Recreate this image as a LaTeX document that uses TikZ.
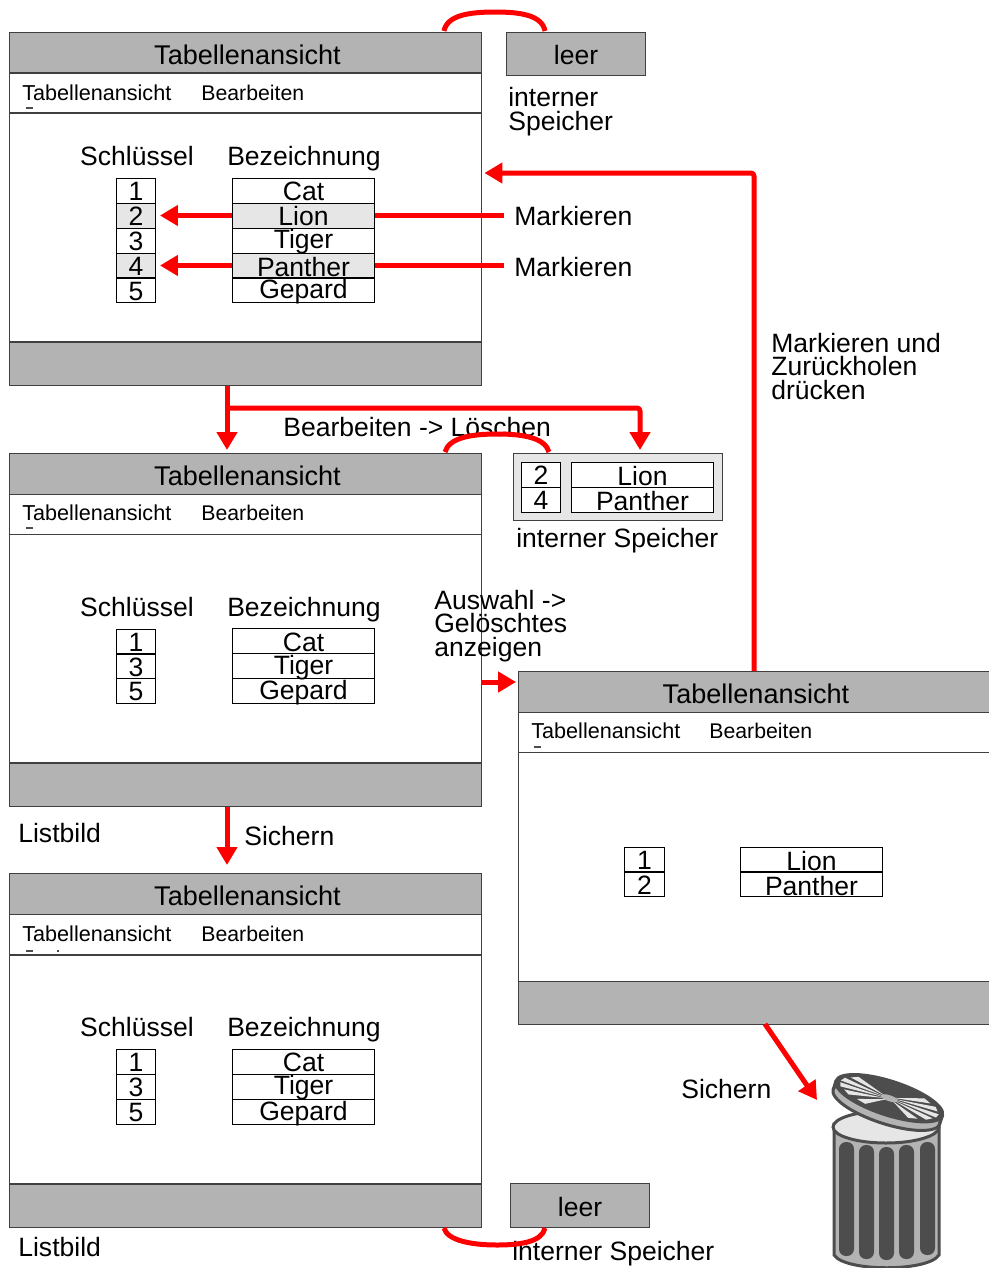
\documentclass[tikz,border=0pt]{standalone}
\usepackage{fontspec}
\setmainfont{Liberation Sans}
\usetikzlibrary{arrows.meta}
\definecolor{bargray}{HTML}{B3B3B3}
\definecolor{markgray}{HTML}{E6E6E6}
\definecolor{bindark}{HTML}{4D4D4D}
\tikzset{
    winpart/.style={draw=black!75,line width=0.02cm,inner sep=0pt,outer sep=0pt,minimum width=9.44cm},
    titlebar/.style={winpart,fill=bargray,minimum height=0.82cm,text height=0.46cm,text depth=0pt,font=\fontsize{15.4}{15}\selectfont,execute at begin node=\hspace*{0.08cm}},
    menubar/.style={winpart,fill=white,minimum height=0.8cm},
    bodybox/.style={winpart,fill=white,minimum height=4.58cm},
    statusbar/.style={winpart,fill=bargray,minimum height=0.86cm},
    leerbox/.style={winpart,fill=bargray,minimum width=2.8cm,minimum height=0.88cm,text height=0.46cm,text depth=0pt,font=\fontsize{15.1}{15}\selectfont},
    menutext/.style={inner sep=0pt,anchor=base west,font=\fontsize{12.3}{12}\selectfont},
    menuright/.style={menutext,font=\fontsize{12.1}{12}\selectfont},
    plaintext/.style={inner sep=0pt,anchor=base west,align=left,font=\fontsize{15.1}{13.3}\selectfont},
    headtext/.style={inner sep=0pt,anchor=base,font=\fontsize{15.1}{15}\selectfont},
    tablerow/.style={draw=black,line width=0.02cm,inner sep=0pt,outer sep=0pt,minimum height=0.5cm,text height=0.4cm,text depth=0pt,font=\fontsize{15.1}{15}\selectfont},
    keyrow/.style={tablerow,minimum width=0.8cm},
    namerow/.style={tablerow,minimum width=2.86cm},
    highrow/.style={text height=0.32cm},
    midrow/.style={text height=0.35cm},
    lowrow/.style={text height=0.44cm},
    redline/.style={red,line width=0.1cm,line join=round},
    redarrow/.style={redline,-{Triangle[width=0.4cm,length=0.36cm]}},
    cutoff/.style={black!70,line width=0.03cm},
}
\begin{document}
\begin{tikzpicture}[x=0.02cm,y=-0.02cm]
    \useasboundingbox (0,0) rectangle (989,1268);

    % first window
    \node [titlebar] (wintitleA) at (245.5,52.5) {Tabellenansicht};
    \node [menubar] (winmenuA) at (245.5,93) {};
    \node [bodybox] (winbodyA) at (245.5,227.5) {};
    \node [statusbar] (winstatusA) at (245.5,364) {};
    \node [menutext] (menuleftA) at (22,100) {Tabellenansicht};
    \node [menuright] (menurightA) at (201,100) {Bearbeiten};
    \draw [cutoff] (26,108) -- (33,108);
    \node [headtext] (keyheadA) at (137,165) {Schlüssel};
    \node [headtext] (nameheadA) at (304,165) {Bezeichnung};
    \node [keyrow] (keyAa) at (136,190.5) {1};
    \node [keyrow,fill=markgray] (keyAb) at (136,215.5) {2};
    \node [keyrow] (keyAc) at (136,240.5) {3};
    \node [keyrow,fill=markgray] (keyAd) at (136,265.5) {4};
    \node [keyrow] (keyAe) at (136,290) {5};
    \node [namerow] (nameAa) at (303.5,190.5) {Cat};
    \node [namerow,fill=markgray] (nameAb) at (303.5,215.5) {Lion};
    \node [namerow,highrow] (nameAc) at (303.5,240.5) {Tiger};
    \node [namerow,fill=markgray,lowrow] (nameAd) at (303.5,265.5) {Panther};
    \node [namerow,midrow] (nameAe) at (303.5,290) {Gepard};
    \node [leerbox,text height=0.42cm] (leerA) at (576,54) {leer};
    \node [plaintext] (speicherA) at (508,130) {interner\\Speicher};
    \node [plaintext] (markA) at (514,225) {Markieren};
    \node [plaintext] (markB) at (514,276) {Markieren};

    % second window
    \node [titlebar] (wintitleB) at (245.5,473.5) {Tabellenansicht};
    \node [menubar] (winmenuB) at (245.5,514) {};
    \node [bodybox] (winbodyB) at (245.5,648.5) {};
    \node [statusbar] (winstatusB) at (245.5,785) {};
    \node [menutext] (menuleftB) at (22,520) {Tabellenansicht};
    \node [menuright] (menurightB) at (201,520) {Bearbeiten};
    \draw [cutoff] (26,528) -- (33,528);
    \node [headtext] (keyheadB) at (137,616) {Schlüssel};
    \node [headtext] (nameheadB) at (304,616) {Bezeichnung};
    \node [keyrow] (keyBa) at (136,641.5) {1};
    \node [keyrow] (keyBb) at (136,666) {3};
    \node [keyrow] (keyBc) at (136,690.5) {5};
    \node [namerow] (nameBa) at (303.5,641) {Cat};
    \node [namerow,highrow] (nameBb) at (303.5,666) {Tiger};
    \node [namerow,midrow] (nameBc) at (303.5,690.5) {Gepard};
    \node [plaintext] (listB) at (18,842) {Listbild};

    % internal memory
    \node [winpart,fill=markgray,minimum width=4.2cm,minimum height=1.34cm] (memory) at (618,486.5) {};
    \node [keyrow,fill=white,minimum width=0.78cm] (memkeyA) at (541,474.5) {2};
    \node [keyrow,fill=white,minimum width=0.78cm] (memkeyB) at (541,499.5) {4};
    \node [namerow,fill=white,lowrow] (memnameA) at (642.5,474.5) {Lion};
    \node [namerow,fill=white,lowrow] (memnameB) at (642.5,499.5) {Panther};
    \node [plaintext] (speicherB) at (516,547) {interner Speicher};

    % third window
    \node [titlebar] (wintitleC) at (245.5,893.5) {Tabellenansicht};
    \node [menubar] (winmenuC) at (245.5,934.5) {};
    \node [bodybox] (winbodyC) at (245.5,1069.5) {};
    \node [statusbar] (winstatusC) at (245.5,1205.5) {};
    \node [menutext] (menuleftC) at (22,941) {Tabellenansicht};
    \node [menuright] (menurightC) at (201,941) {Bearbeiten};
    \draw [cutoff] (26,951) -- (33,951);
    \draw [cutoff] (57,951) -- (59,951);
    \node [headtext] (keyheadC) at (137,1036) {Schlüssel};
    \node [headtext] (nameheadC) at (304,1036) {Bezeichnung};
    \node [keyrow] (keyCa) at (136,1061.5) {1};
    \node [keyrow] (keyCb) at (136,1086.5) {3};
    \node [keyrow] (keyCc) at (136,1111.5) {5};
    \node [namerow] (nameCa) at (303.5,1061.5) {Cat};
    \node [namerow,highrow] (nameCb) at (303.5,1086.5) {Tiger};
    \node [namerow,midrow] (nameCc) at (303.5,1111.5) {Gepard};
    \node [leerbox] (leerB) at (580,1205) {leer};
    \node [plaintext] (listC) at (18,1256) {Listbild};
    \node [plaintext] (speicherC) at (512,1260) {interner Speicher};

    % fourth window
    \node [titlebar] (wintitleD) at (754,691.5) {Tabellenansicht};
    \node [menubar] (winmenuD) at (754,732.5) {};
    \node [bodybox] (winbodyD) at (754,867) {};
    \node [statusbar] (winstatusD) at (754,1003) {};
    \node [menutext] (menuleftD) at (531,738) {Tabellenansicht};
    \node [menuright] (menurightD) at (709,738) {Bearbeiten};
    \draw [cutoff] (534,747) -- (541,747);
    \node [keyrow] (keyDa) at (644.5,859.5) {1};
    \node [keyrow] (keyDb) at (644.5,884) {2};
    \node [namerow,lowrow] (nameDa) at (811.5,859.5) {Lion};
    \node [namerow,lowrow] (nameDb) at (811.5,884) {Panther};

    % free labels
    \node [plaintext] (loeschen) at (283,436) {Bearbeiten -> Löschen};
    \node [plaintext] (auswahl) at (434,656) {Auswahl ->\\Gelöschtes\\anzeigen};
    \node [plaintext] (zurueck) at (771,399) {Markieren und\\Zurückholen\\drücken};
    \node [plaintext] (sichernA) at (244,845) {Sichern};
    \node [plaintext] (sichernB) at (681,1098) {Sichern};

    % helper points for the connectors
    \coordinate (dropA) at (227,408);
    \coordinate (dropB) at (640,408);
    \coordinate (dropC) at (227,806);
    \coordinate (riseA) at (754,173);
    \coordinate (showA) at (481,682);
    \coordinate (binA) at (817,1100);
    \coordinate (binB) at (765,1024);
    \coordinate (markstartA) at (504,215);
    \coordinate (markstartB) at (504,265);
    \coordinate (humpA) at (444,31);
    \coordinate (humpB) at (545,31);
    \coordinate (humpC) at (445,452);
    \coordinate (humpD) at (549,452);
    \coordinate (humpE) at (444,1228);
    \coordinate (humpF) at (545,1228);

    % connectors
    \draw [redline] (markstartA) -- (nameAb.east |- markstartA);
    \draw [redline] (markstartB) -- (nameAd.east |- markstartB);
    \draw [redarrow,shorten >=0.08cm] (nameAb.west) -- (keyAb.east);
    \draw [redarrow,shorten >=0.08cm] (nameAd.west) -- (keyAd.east);
    \draw [redarrow,shorten >=0.06cm] (winstatusA.south -| dropA) -- (wintitleB.north -| dropA);
    \draw [redarrow,shorten >=0.06cm,rounded corners=0.06cm] (dropA) -- (dropB) -- (memory.north -| dropB);
    \draw [redarrow,shorten >=0.16cm] (winstatusB.south -| dropC) -- (wintitleC.north -| dropC);
    \draw [redarrow,shorten >=0.04cm] (showA) -- (wintitleD.west |- showA);
    \draw [redarrow,rounded corners=0.06cm,shorten >=0.06cm] (wintitleD.north -| riseA) -- (riseA) -- (winbodyA.east |- riseA);
    \draw [redarrow] (binB) -- (binA);
    \draw [redline] (humpA) .. controls (447,15) and (470,12) .. (495,12) .. controls (520,12) and (542,15) .. (humpB);
    \draw [redline] (humpC) .. controls (449,438) and (470,434) .. (497,434) .. controls (524,434) and (545,438) .. (humpD);
    \draw [redline] (humpE) .. controls (447,1240) and (470,1245) .. (497,1245) .. controls (520,1245) and (542,1242) .. (humpF);

    % waste bin
    \draw [bindark,line width=0.06cm,fill=bargray] (834,1124) -- (834,1255) .. controls (845,1272) and (928,1272) .. (939,1255) -- (939,1124) -- cycle;
    \draw [bindark,line width=0.06cm,fill=markgray] (886,1127) ellipse [x radius=53,y radius=16];
    \fill [bindark,rounded corners=0.14cm] (839,1142) rectangle (854,1256);
    \fill [bindark,rounded corners=0.14cm] (859,1145) rectangle (874,1259);
    \fill [bindark,rounded corners=0.14cm] (879,1147) rectangle (894,1260);
    \fill [bindark,rounded corners=0.14cm] (899,1145) rectangle (914,1259);
    \fill [bindark,rounded corners=0.14cm] (920,1142) rectangle (935,1255);
    \begin{scope}[shift={(888,1102)},rotate=-18]
        \draw [bindark,line width=0.06cm,fill=bargray] (0,5) ellipse [x radius=56,y radius=17];
        \fill [bargray] (-54,-4) rectangle (54,5);
        \draw [bindark,line width=0.06cm] (-56,-4) -- (-56,5);
        \draw [bindark,line width=0.06cm] (56,-4) -- (56,5);
        \draw [bindark,line width=0.06cm,fill=bindark] (0,-4) ellipse [x radius=56,y radius=17];
        \foreach \a in {8,32,58,122,148,172,196,222,318,342} {
            \fill [markgray] (\a-8:6 and 2) ++(0,-4) -- ++(\a-8:46 and 12) -- ++(\a+90:11 and 4) -- cycle;
        }
        \fill [bargray] (0,-4) ellipse [x radius=9,y radius=3];
    \end{scope}
\end{tikzpicture}
\end{document}
